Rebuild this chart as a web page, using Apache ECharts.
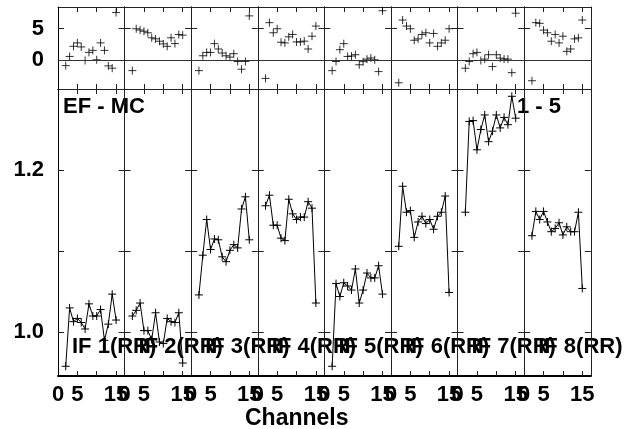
<!DOCTYPE html>
<html>
<head>
<meta charset="utf-8">
<script src="https://cdn.jsdelivr.net/npm/echarts@6/dist/echarts.min.js"></script>
<style>
  html, body { margin: 0; padding: 0; background: #fff; }
  #chart { width: 634px; height: 429px; }
</style>
</head>
<body>
<div id="chart"></div>
<script>
// channels measured in every IF panel
const channels = [2, 3, 4, 5, 6, 7, 8, 9, 10, 11, 12, 13, 14, 15];

// EF / MC ratio, one list per IF (main panels)
const ratio1 = [0.958, 1.030, 1.013, 1.017, 1.012, 1.004, 1.035, 1.020, 1.020, 1.028, 0.990, 1.010, 1.047, 1.015];
const ratio2 = [1.020, 1.027, 1.036, 1.002, 1.002, 0.991, 1.024, 0.988, 0.986, 1.017, 1.013, 1.012, 1.024, 0.962];
const ratio3 = [1.046, 1.095, 1.139, 1.102, 1.115, 1.114, 1.093, 1.087, 1.101, 1.108, 1.104, 1.152, 1.167, 1.114];
const ratio4 = [1.156, 1.169, 1.132, 1.132, 1.116, 1.113, 1.164, 1.146, 1.139, 1.142, 1.142, 1.161, 1.153, 1.036];
const ratio5 = [0.958, 1.060, 1.044, 1.061, 1.057, 1.052, 1.078, 1.036, 1.052, 1.073, 1.067, 1.067, 1.082, 1.047];
const ratio6 = [1.106, 1.180, 1.148, 1.150, 1.117, 1.136, 1.143, 1.134, 1.139, 1.127, 1.143, 1.148, 1.168, 1.049];
const ratio7 = [1.148, 1.260, 1.261, 1.225, 1.250, 1.268, 1.235, 1.248, 1.268, 1.252, 1.265, 1.256, 1.291, 1.264];
const ratio8 = [1.119, 1.149, 1.139, 1.149, 1.136, 1.124, 1.128, 1.135, 1.120, 1.130, 1.124, 1.124, 1.148, 1.054];

// residuals, top strip of each IF
const resid1 = [-0.93, 0.54, 2.17, 2.72, 2.07, -0.11, 1.19, 1.52, 0.0, 2.72, 1.52, -0.98, -1.35, 7.6];
const resid2 = [-1.74, 5.0, 4.8, 4.6, 4.35, 3.54, 3.37, 2.99, 2.56, 2.17, 3.54, 2.61, 4.08, 3.97];
const resid3 = [-1.74, 0.65, 1.19, 1.19, 2.6, 1.74, 1.09, 0.65, 0.43, 0.98, -0.27, -1.52, -0.27, 7.07];
const resid4 = [-2.99, 5.98, 4.35, 5.0, 2.83, 2.72, 3.7, 4.08, 2.88, 2.88, 3.0, 1.74, 3.8, 5.43];
const resid5 = [-1.74, -0.27, 1.63, 2.6, 0.54, 0.6, 0.82, -0.8, -0.3, 0.1, 0.3, 0.0, -1.9, 7.9];
const resid6 = [-3.7, 6.4, 5.43, 5.0, 3.15, 3.37, 4.08, 4.35, 2.72, 4.24, 2.17, 2.72, 3.15, 5.0];
const resid7 = [-1.35, -0.27, 0.98, 1.19, -0.11, 0.11, 0.82, -1.09, 0.82, 0.27, 0.11, 0.11, -2.07, 7.5];
const resid8 = [-3.37, 5.98, 5.87, 4.78, 4.35, 2.99, 4.08, 2.72, 3.8, 1.36, 1.74, 3.37, 3.53, 6.4];

const ifNames = ['1(RR)', '2(RR)', '3(RR)', '4(RR)', '5(RR)', '6(RR)', '7(RR)', '8(RR)'];

// tick positions / labels
const xTicks = [5, 10, 15];
const xLabels = [0, 5, 15];
const ratioTicks = [1.0, 1.1, 1.2];
const ratioLabels = [1.0, 1.2];
const residTicks = [0, 5];
const residLabels = [0, 5];

const ratios = [ratio1, ratio2, ratio3, ratio4, ratio5, ratio6, ratio7, ratio8];
const resids = [resid1, resid2, resid3, resid4, resid5, resid6, resid7, resid8];

const FONT = 'Liberation Sans, Arial, sans-serif';
const PLUS = 'path://M0,5 L10,5 M5,0 L5,10';
const left0 = 58, panelW = 66.6;
const topY = 7, topH = 82, mainY = 89, mainH = 287;

const grid = [], xAxis = [], yAxis = [], series = [];

const labelStyle = { color: '#000', fontFamily: FONT, fontWeight: 'bold', fontSize: 22 };

function addAxes(gi, opts) {
    const lineColor = '#222';
    // bottom x
    xAxis.push({
        type: 'value', gridIndex: gi, position: 'bottom', min: 0, max: 17.2,
        axisLine: { show: true, onZero: false, lineStyle: { color: '#000', width: opts.bottomWidth } },
        axisTick: { show: true, inside: true, length: 5, customValues: xTicks, lineStyle: { color: lineColor } },
        axisLabel: Object.assign({ show: opts.xLabels, margin: 8, customValues: xLabels }, labelStyle),
        splitLine: { show: false }
    });
    // top x (mirror ticks)
    xAxis.push({
        type: 'value', gridIndex: gi, position: 'top', min: 0, max: 17.2,
        axisLine: { show: true, onZero: false, lineStyle: { color: lineColor } },
        axisTick: { show: true, inside: true, length: 5, customValues: xTicks, lineStyle: { color: lineColor } },
        axisLabel: { show: false },
        splitLine: { show: false }
    });
    // left y
    yAxis.push({
        type: 'value', gridIndex: gi, position: 'left', min: opts.min, max: opts.max,
        axisLine: { show: true, onZero: false, lineStyle: { color: opts.first ? '#000' : lineColor } },
        axisTick: { show: true, inside: true, length: 6, customValues: opts.ticks, lineStyle: { color: lineColor } },
        axisLabel: Object.assign({
            show: opts.first, margin: 14, customValues: opts.labels,
            formatter: opts.fmt
        }, labelStyle),
        splitLine: { show: false }
    });
    // right y (mirror ticks)
    yAxis.push({
        type: 'value', gridIndex: gi, position: 'right', min: opts.min, max: opts.max,
        axisLine: { show: true, onZero: false, lineStyle: { color: lineColor } },
        axisTick: { show: true, inside: true, length: 6, customValues: opts.ticks, lineStyle: { color: lineColor } },
        axisLabel: { show: false },
        splitLine: { show: false }
    });
}

const markStyle = { color: '#000', borderColor: '#000', borderWidth: 1 };

for (let i = 0; i < 8; i++) {
    const left = left0 + panelW * i;
    // residual strip
    const gTop = grid.length;
    grid.push({ left: left, top: topY, width: panelW, height: topH });
    addAxes(gTop, {
        min: -4.7, max: 8.5, ticks: residTicks, labels: residLabels,
        fmt: v => String(Math.round(v)), first: i === 0, xLabels: false, bottomWidth: 1
    });
    series.push({
        type: 'scatter', xAxisIndex: gTop * 2, yAxisIndex: gTop * 2,
        symbol: PLUS, symbolSize: 8, itemStyle: markStyle,
        data: channels.map((c, j) => [c, resids[i][j]]),
        markLine: {
            silent: true, symbol: 'none', label: { show: false },
            lineStyle: { color: '#333', type: 'solid', width: 1 },
            data: [{ yAxis: 0 }]
        }
    });
    // main ratio panel
    const gMain = grid.length;
    grid.push({ left: left, top: mainY, width: panelW, height: mainH });
    addAxes(gMain, {
        min: 0.946, max: 1.3, ticks: ratioTicks, labels: ratioLabels,
        fmt: v => v.toFixed(1), first: i === 0, xLabels: true, bottomWidth: 2
    });
    series.push({
        type: 'line', xAxisIndex: gMain * 2, yAxisIndex: gMain * 2,
        symbol: PLUS, symbolSize: 8, showAllSymbol: true,
        itemStyle: markStyle,
        lineStyle: { color: '#000', width: 1 },
        data: channels.map((c, j) => [c, ratios[i][j]])
    });
}

const textStyle = { fill: '#000', font: 'bold 22px ' + FONT, textVerticalAlign: 'middle' };
const graphic = [
    { type: 'text', left: 63, top: 96, style: Object.assign({ text: 'EF - MC' }, textStyle) },
    { type: 'text', left: 517, top: 96, style: Object.assign({ text: '1 - 5' }, textStyle) },
    { type: 'text', left: 245, top: 407, style: Object.assign({}, textStyle, { text: 'Channels', font: 'bold 23px ' + FONT }) }
];
ifNames.forEach((n, i) => {
    graphic.push({
        type: 'text', left: 72 + panelW * i, top: 336,
        style: Object.assign({ text: 'IF ' + n }, textStyle)
    });
});

const myChart = echarts.init(document.getElementById('chart'), null, { renderer: 'canvas' });
myChart.setOption({
    animation: false,
    backgroundColor: '#fff',
    grid, xAxis, yAxis, series, graphic
});
</script>
</body>
</html>
